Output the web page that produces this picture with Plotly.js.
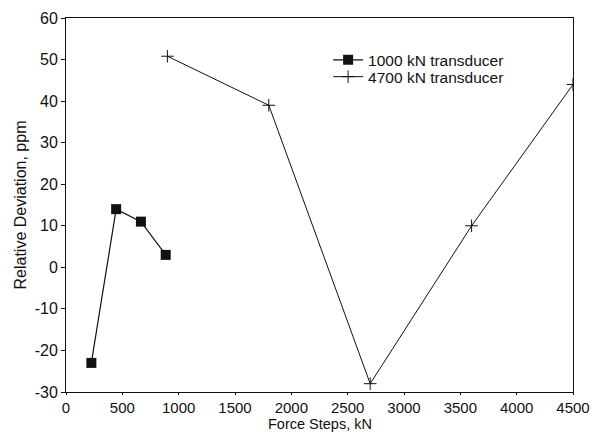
<!DOCTYPE html>
<html><head><meta charset="utf-8">
<script src="https://cdn.plot.ly/plotly-3.0.1.min.js"></script>
<style>body{margin:0;padding:0;background:#fff}</style>
</head><body>
<div id="chart" style="width:592px;height:434px"></div>
<script>
const series1Name = "1000 kN transducer";
const series1X = [225, 445, 665, 885];
const series1Y = [-23, 14, 11, 3];
const series2Name = "4700 kN transducer";
const series2X = [900, 1800, 2700, 3600, 4500];
const series2Y = [50.8, 39, -28, 10, 44];
const xTitle = "Force Steps, kN";
const yTitle = "Relative Deviation, ppm";
const xTicks = [0, 500, 1000, 1500, 2000, 2500, 3000, 3500, 4000, 4500];
const yTicks = [-30, -20, -10, 0, 10, 20, 30, 40, 50, 60];
const yTickText = ["-30", "-20", "-10", "0", "10", "20", "30", "40", "50", "60"];

const fam = "Liberation Sans, Arial, sans-serif";
const ink = "#111";
const traces = [
  {x: series1X, y: series1Y, name: series1Name, mode: "lines+markers", type: "scatter", legend: "legend",
   line: {color: ink, width: 1.2}, marker: {symbol: "square", size: 10, color: ink}},
  {x: series2X, y: series2Y, name: series2Name, mode: "lines+markers", type: "scatter", legend: "legend2",
   line: {color: ink, width: 1}, marker: {symbol: "cross-thin", size: 9, line: {color: ink, width: 1}}}
];
const legBase = {x: 0.517, xanchor: "left", yanchor: "middle", bgcolor: "rgba(0,0,0,0)",
                 font: {family: fam, size: 15.5, color: ink}, itemwidth: 30};
const layout = {
  width: 592, height: 434,
  margin: {l: 66, r: 19, t: 18, b: 42},
  paper_bgcolor: "#fff", plot_bgcolor: "#fff",
  font: {family: fam, size: 16, color: ink},
  showlegend: true,
  legend: Object.assign({}, legBase, {y: 0.887}),
  legend2: Object.assign({}, legBase, {y: 0.842}),
  xaxis: {range: [0, 4500], tickvals: xTicks,
          ticks: "outside", ticklen: 2, tickcolor: ink, showgrid: false, zeroline: false,
          showline: true, linecolor: ink, linewidth: 1, mirror: true,
          tickfont: {family: fam, size: 15, color: ink}},
  yaxis: {range: [-30, 60], tickvals: yTicks, ticktext: yTickText,
          ticks: "outside", ticklen: 4, tickcolor: ink, showgrid: false, zeroline: false,
          showline: true, linecolor: ink, linewidth: 1, mirror: true,
          title: {text: yTitle, font: {family: fam, size: 16, color: ink}, standoff: 4},
          tickfont: {family: fam, size: 16, color: ink}},
  annotations: [{text: xTitle, xref: "paper", yref: "paper", x: 0.5, y: -0.11,
                 xanchor: "center", yanchor: "bottom", showarrow: false, borderpad: 0,
                 font: {family: fam, size: 14.5, color: ink}}]
};
Plotly.newPlot("chart", traces, layout, {displayModeBar: false, staticPlot: true});
</script>
</body></html>
